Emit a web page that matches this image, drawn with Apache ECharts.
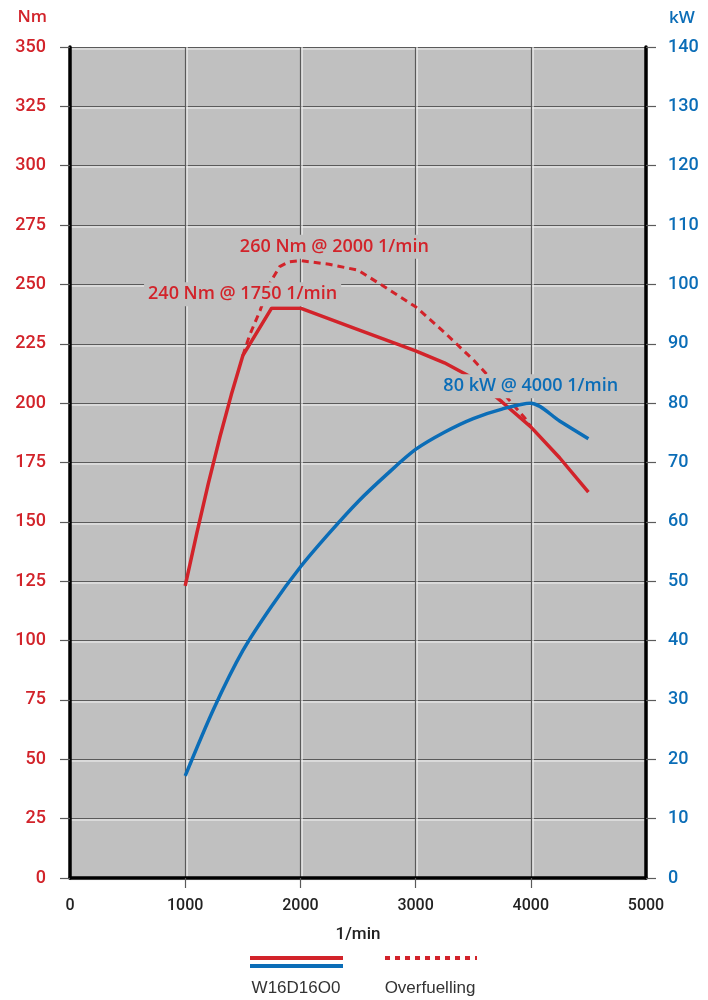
<!DOCTYPE html>
<html><head><meta charset="utf-8">
<script src="https://cdn.jsdelivr.net/npm/echarts@6/dist/echarts.min.js"></script>
<style>html,body{margin:0;padding:0;background:#fff}#c{width:708px;height:1000px}</style>
</head><body><div id="c"></div>
<script>
const rpmTicks = [0,1000,2000,3000,4000,5000];
const rpmTorque = [1000,1100,1200,1300,1400,1500,1750,2000,2500,3000,3250,3500,3750,4000,4250,4500];
const torque    = [123,145,166,185.5,203.5,220,240,240,231,222,217,210.5,200.5,190,177,162.5];
const rpmOver   = [1500,1560,1650,1740,1820,1900,2000,2250,2500,2750,3000,3250,3500,3650,3800,3950,4000];
const overfuel  = [220,228.7,239,251,257.5,259.5,260,258.5,256,248.4,240.6,229.8,218.3,210.5,202,193.6,190];
const rpmPower  = [1000,1250,1500,1750,2000,2250,2500,2750,3000,3250,3500,3750,4000,4250,4500];
const power     = [17.2,28.6,38.3,45.8,52.4,58.1,63.4,68.0,72.2,75.1,77.4,79.0,80,77.0,74];
const labels = {torque:'240 Nm @ 1750 1/min', over:'260 Nm @ 2000 1/min', power:'80 kW @ 4000 1/min'};
const legendNames = ['W16D16O0','Overfuelling'];

const RED = '#d2232a', BLUE = '#0b6db7', BG = '#c0c0c0', GRID = '#5a5a5a';
const zip = (a,b) => a.map((v,i)=>[v,b[i]]);
const gridLine = (ox,oy) => ({color:GRID, width:1.2, shadowColor:'#f4f4f4', shadowOffsetX:ox, shadowOffsetY:oy, shadowBlur:0});
const annLabel = (color, offset) => ({show:true, position:'inside', offset, color, fontFamily:'"Open Sans"', fontWeight:600, fontSize:18,
  backgroundColor:BG, padding:[4,4,2,4]});

const chart = echarts.init(document.getElementById('c'), null, {renderer:'canvas'});
chart.setOption({
  animation:false,
  backgroundColor:'#fff',
  grid:{left:70, right:62, top:47, bottom:122, show:true, backgroundColor:BG, borderWidth:0},
  xAxis:{type:'value', min:0, max:5000, interval:1000,
    name:'1/min', nameLocation:'middle', nameGap:48,
    nameTextStyle:{color:'#222', fontFamily:'Roboto', fontWeight:500, fontSize:17},
    axisLine:{show:true, onZero:false, lineStyle:{color:'#000', width:3.5}},
    axisTick:{show:true, length:10, customValues:[1000,2000,3000,4000], lineStyle:{color:GRID, width:1.2}},
    axisLabel:{color:'#222', fontFamily:'Roboto', fontWeight:500, fontSize:16, margin:20, formatter: v => String(v)},
    splitLine:{show:true, lineStyle:gridLine(1.5,0)}},
  yAxis:[
    {type:'value', min:0, max:350, interval:25, position:'left',
     axisLine:{show:true, lineStyle:{color:'#000', width:3.5}},
     axisTick:{show:true, length:10, lineStyle:{color:GRID, width:1.2}},
     axisLabel:{color:RED, fontFamily:'Roboto', fontWeight:500, fontSize:18, margin:24},
     splitLine:{show:true, lineStyle:gridLine(0,1.5)}},
    {type:'value', min:0, max:140, interval:10, position:'right',
     axisLine:{show:true, lineStyle:{color:'#000', width:3.5}},
     axisTick:{show:true, length:10, lineStyle:{color:GRID, width:1.2}},
     axisLabel:{color:BLUE, fontFamily:'Roboto', fontWeight:500, fontSize:18, margin:22},
     splitLine:{show:false}}
  ],
  series:[
    {type:'line', name:'Overfuelling', yAxisIndex:0, data:zip(rpmOver,overfuel), showSymbol:false, smooth:false,
     lineStyle:{color:RED, width:3, type:[7,5]}, z:3,
     markPoint:{z:6, symbol:'circle', symbolSize:1, itemStyle:{color:'rgba(0,0,0,0)'},
       data:[{coord:[2000,260], label:Object.assign(annLabel(RED,[34,-14]),{formatter:labels.over})}]}},
    {type:'line', name:'Torque', yAxisIndex:0, data:zip(rpmTorque,torque), showSymbol:false, smooth:false,
     lineStyle:{color:RED, width:3.5}, z:4,
     markPoint:{z:6, symbol:'circle', symbolSize:1, itemStyle:{color:'rgba(0,0,0,0)'},
       data:[{coord:[1750,240], label:Object.assign(annLabel(RED,[-29,-14]),{formatter:labels.torque})}]}},
    {type:'line', name:'Power', yAxisIndex:1, data:zip(rpmPower,power), showSymbol:false, smooth:0.3,
     lineStyle:{color:BLUE, width:3.5}, z:4,
     markPoint:{z:6, symbol:'circle', symbolSize:1, itemStyle:{color:'rgba(0,0,0,0)'},
       data:[{coord:[4000,80], label:Object.assign(annLabel(BLUE,[0,-17]),{formatter:labels.power})}]}}
  ],
  graphic:[
    {type:'text', x:47, y:17, style:{text:'Nm', fill:RED, font:'600 17px "Open Sans"', align:'right', verticalAlign:'middle'}},
    {type:'text', x:669, y:18, style:{text:'kW', fill:BLUE, font:'600 17px "Open Sans"', align:'left', verticalAlign:'middle'}},
    {type:'line', shape:{x1:250,y1:958,x2:343,y2:958}, style:{stroke:RED, lineWidth:4}},
    {type:'line', shape:{x1:250,y1:966,x2:343,y2:966}, style:{stroke:BLUE, lineWidth:4}},
    {type:'line', shape:{x1:385,y1:958,x2:477,y2:958}, style:{stroke:RED, lineWidth:4, lineDash:[5,5]}},
    {type:'text', x:296, y:988, style:{text:legendNames[0], fill:'#333', font:'17px "Liberation Sans"', align:'center', verticalAlign:'middle'}},
    {type:'text', x:430, y:988, style:{text:legendNames[1], fill:'#333', font:'17px "Liberation Sans"', align:'center', verticalAlign:'middle'}}
  ]
});
</script></body></html>
